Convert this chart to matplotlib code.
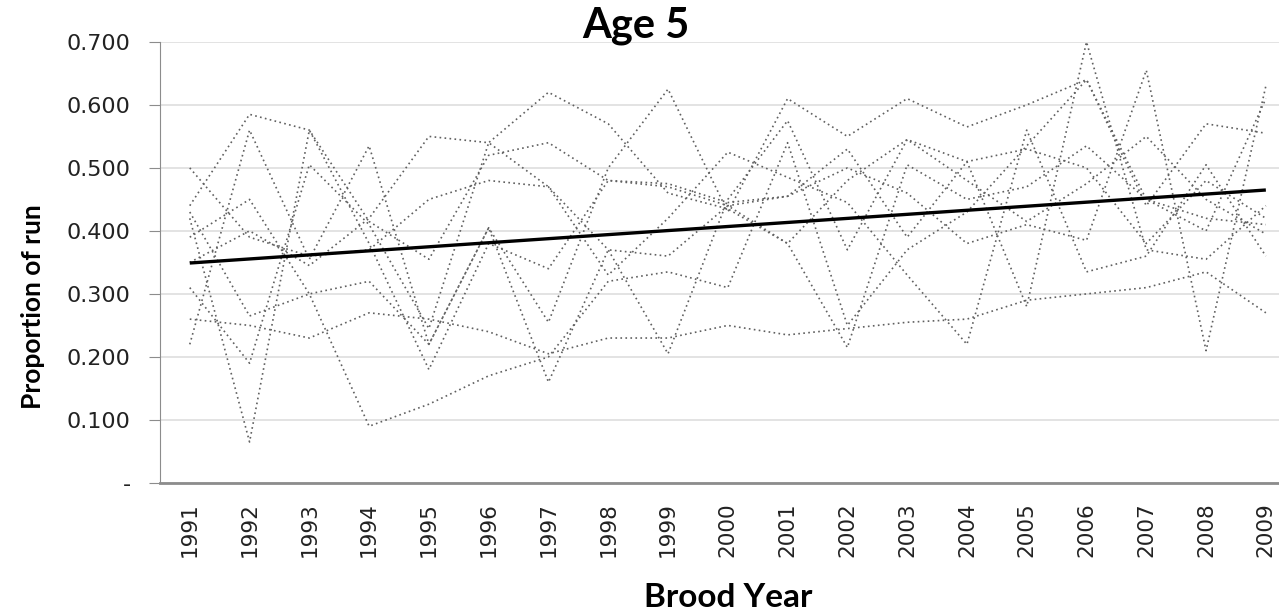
import numpy as np
import matplotlib
matplotlib.use("Agg")
from matplotlib import pyplot as plt

# brood years and proportion of the run returning at age 5, one list per stock
years = list(range(1991, 2010))

stock_a = [0.26, 0.25, 0.23, 0.27, 0.26, 0.24, 0.205, 0.23, 0.23, 0.25, 0.235, 0.245, 0.255, 0.26, 0.29, 0.30, 0.31, 0.335, 0.27]
stock_b = [0.44, 0.585, 0.56, 0.415, 0.355, 0.52, 0.54, 0.48, 0.47, 0.44, 0.455, 0.53, 0.39, 0.51, 0.28, 0.70, 0.37, 0.355, 0.44]
stock_c = [0.22, 0.56, 0.355, 0.535, 0.22, 0.405, 0.255, 0.50, 0.625, 0.43, 0.61, 0.55, 0.61, 0.565, 0.60, 0.64, 0.44, 0.57, 0.555]
stock_d = [0.42, 0.065, 0.56, 0.38, 0.18, 0.38, 0.34, 0.48, 0.475, 0.445, 0.455, 0.50, 0.46, 0.38, 0.41, 0.385, 0.655, 0.21, 0.63]
stock_e = [0.31, 0.19, 0.505, 0.41, 0.245, 0.54, 0.47, 0.37, 0.205, 0.45, 0.575, 0.37, 0.545, 0.48, 0.415, 0.475, 0.55, 0.45, 0.395]
stock_f = [0.50, 0.39, 0.36, 0.37, 0.45, 0.48, 0.47, 0.33, 0.42, 0.525, 0.485, 0.445, 0.33, 0.22, 0.56, 0.335, 0.36, 0.505, 0.36]
stock_g = [0.39, 0.45, 0.30, 0.09, 0.125, 0.17, 0.20, 0.32, 0.335, 0.31, 0.54, 0.25, 0.37, 0.43, 0.535, 0.64, 0.45, 0.40, 0.61]
stock_h = [0.43, 0.265, 0.30, 0.32, 0.22, 0.405, 0.16, 0.37, 0.36, 0.44, 0.38, 0.215, 0.505, 0.45, 0.47, 0.535, 0.45, 0.42, 0.41]
stock_i = [0.35, 0.40, 0.345, 0.42, 0.55, 0.54, 0.62, 0.57, 0.46, 0.435, 0.38, 0.48, 0.545, 0.51, 0.53, 0.50, 0.38, 0.48, 0.42]

stocks = [stock_a, stock_b, stock_c, stock_d, stock_e, stock_f, stock_g, stock_h, stock_i]

ytick_vals = [0, 0.1, 0.2, 0.3, 0.4, 0.5, 0.6, 0.7]
ytick_labels = ["-", "0.100", "0.200", "0.300", "0.400", "0.500", "0.600", "0.700"]

fig = plt.figure(figsize=(12.79, 6.16), dpi=100)
ax = fig.add_axes([0.125, 0.216, 0.875, 0.716])

x = np.arange(len(years))
for s in stocks:
    ax.plot(x, s, color="#606060", linestyle=(0, (1, 2)), linewidth=1.2)

# linear trend through all stocks
xx = np.tile(x, len(stocks))
yy = np.concatenate(stocks)
slope, icpt = np.polyfit(xx, yy, 1)
ax.plot([x[0], x[-1]], [icpt, icpt + slope * x[-1]], color="black", linewidth=2.4,
        solid_capstyle="butt", zorder=5)

ax.set_xlim(-0.5, 18.22)
ax.set_ylim(0, 0.7)
ax.set_yticks(ytick_vals)
ax.set_yticklabels(ytick_labels)
ax.set_xticks(x)
ax.set_xticklabels([str(y) for y in years], rotation=90)
ax.grid(axis="y", color="#e3e3e3", linewidth=1.4)
ax.set_axisbelow(True)

for side in ["top", "right"]:
    ax.spines[side].set_visible(False)
ax.spines["left"].set_color("#8c8c8c")
ax.spines["bottom"].set_color("#8c8c8c")
ax.spines["bottom"].set_linewidth(2)
ax.tick_params(axis="y", length=8, color="#8c8c8c", labelsize=16, pad=13, labelcolor="#222222")
ax.tick_params(axis="x", length=0, labelsize=15.5, pad=14, labelcolor="#222222")

fig.text(0.497, 0.958, "Age 5", fontfamily="Lato", fontweight="bold", fontsize=30,
         ha="center", va="center")
ax.set_ylabel("Proportion of run", fontfamily="Lato", fontweight="bold", fontsize=19)
ax.yaxis.set_label_coords(-0.103, 0.40)
ax.set_xlabel("Brood Year", fontfamily="Lato", fontweight="bold", fontsize=24)
ax.xaxis.set_label_coords(0.508, -0.226)

fig.savefig("out.png", dpi=100)
